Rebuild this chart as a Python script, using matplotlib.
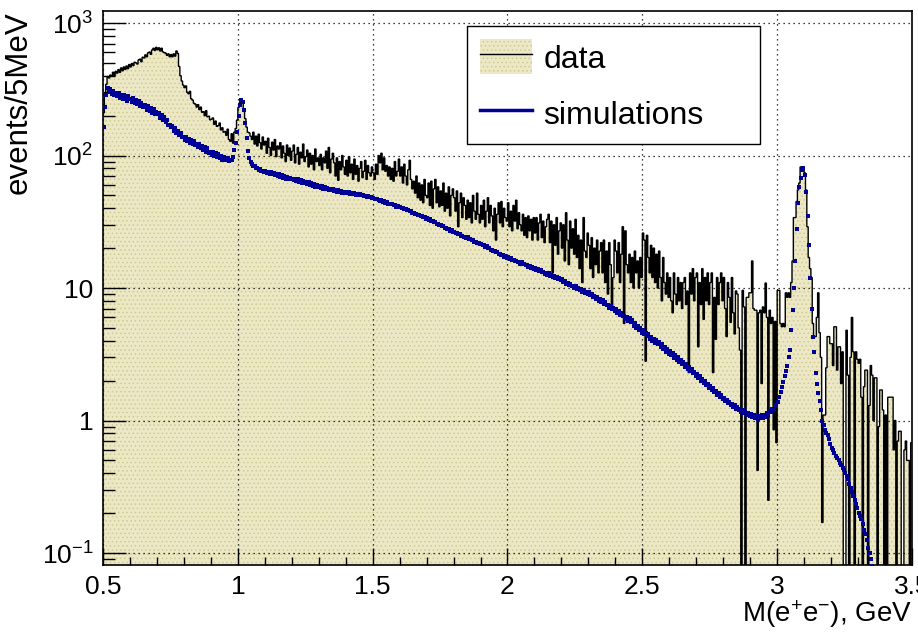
import numpy as np
import matplotlib
matplotlib.use('Agg')
import matplotlib.pyplot as plt
from matplotlib.patches import Patch
from matplotlib.lines import Line2D
from matplotlib.ticker import FixedLocator, FixedFormatter, LogLocator, MultipleLocator, NullFormatter, FuncFormatter

plt.rcParams['font.family'] = ['Liberation Sans', 'DejaVu Sans']
plt.rcParams['mathtext.fontset'] = 'custom'
plt.rcParams['mathtext.rm'] = 'Liberation Sans'
plt.rcParams['mathtext.it'] = 'Liberation Sans:italic'
plt.rcParams['mathtext.bf'] = 'Liberation Sans:bold'
plt.rcParams['hatch.linewidth'] = 0.6

# ---------------- data ----------------
x_lo, x_hi, bin_w = 0.5, 3.5, 0.005

data_counts = [
    210, 295, 345, 395, 385, 405, 400, 425, 398, 432,
    418, 445, 424, 458, 436, 466, 446, 474, 452, 486,
    466, 495, 478, 506, 500, 490, 526, 534, 510, 552,
    545, 575, 556, 596, 604, 580, 626, 645, 620, 655,
    628, 650, 615, 645, 605, 598, 592, 570, 585, 556,
    578, 556, 585, 562, 615, 590, 470, 400, 365, 340,
    325, 335, 300, 292, 305, 268, 262, 248, 244, 232,
    242, 222, 232, 212, 214, 200, 218, 196, 198, 186,
    188, 192, 172, 182, 166, 168, 176, 156, 162, 150,
    152, 142, 158, 132, 128, 146, 124, 150, 160, 185,
    230, 250, 262, 250, 220, 190, 164, 150, 148, 140,
    132, 150, 122, 140, 118, 145, 125, 112, 138, 120,
    128, 104, 135, 115, 100, 126, 110, 132, 98, 118,
    112, 125, 96, 118, 104, 90, 120, 100, 114, 92,
    108, 120, 88, 102, 115, 86, 106, 96, 122, 90,
    98, 110, 82, 104, 86, 100, 78, 112, 90, 96,
    84, 102, 78, 96, 88, 108, 80, 115, 74, 94,
    104, 88, 70, 96, 65, 90, 78, 100, 82, 72,
    92, 70, 98, 74, 86, 66, 94, 72, 84, 64,
    80, 90, 68, 76, 92, 66, 84, 74, 70, 82,
    74, 66, 86, 72, 100, 88, 104, 78, 96, 76,
    84, 70, 82, 66, 80, 64, 90, 70, 76, 94,
    70, 82, 62, 86, 70, 60, 78, 92, 66, 56,
    64, 52, 70, 48, 62, 46, 60, 44, 66, 50,
    48, 62, 42, 64, 40, 56, 66, 44, 58, 41,
    54, 42, 62, 38, 52, 40, 58, 35, 50, 56,
    48, 38, 54, 29, 44, 52, 34, 48, 42, 33,
    46, 34, 44, 31, 50, 38, 33, 52, 36, 31,
    42, 33, 46, 29, 38, 48, 31, 42, 35, 27,
    40, 23, 36, 44, 31, 45, 29, 40, 34, 32,
    44, 29, 38, 27, 42, 32, 46, 28, 37, 30,
    27, 36, 25, 34, 24, 35, 27, 33, 23, 34,
    26, 34, 23, 31, 36, 24, 32, 22, 29, 33,
    36, 22, 32, 13, 30, 21, 34, 18, 27, 31,
    20, 30, 16, 37, 23, 15, 32, 20, 28, 18,
    33, 17, 25, 14, 23, 11, 34, 19, 17, 26,
    21, 14, 24, 12, 20, 15, 23, 13, 19, 22,
    13, 23, 11, 19, 9, 22, 15, 7, 12, 23,
    19, 13, 22, 11, 18, 29, 5.4, 27, 15, 13,
    18, 11, 17, 10, 19, 13, 16, 10, 17, 12,
    26, 23, 2.8, 25, 17, 13, 21, 12, 20, 11,
    18, 10, 19, 12, 8, 17, 11, 9, 13, 8.5,
    12, 8, 6.5, 13, 9, 7.5, 12, 8, 11, 7,
    11, 12, 7.5, 9.5, 2.3, 13, 9, 14, 8, 12,
    13, 3.6, 11, 7.5, 14, 5.8, 12, 8, 13, 7.5,
    11, 13, 2.3, 8.5, 4.1, 12, 7.5, 11, 13, 8,
    12, 7, 4.3, 11, 8.5, 5.5, 12, 6.5, 4.5, 9.5,
    9, 5, 3.4, 0, 9.6, 7.2, 0, 8.5, 8.5, 9.2,
    9.2, 16, 7, 6.8, 6.8, 0.42, 6.5, 6.8, 1.9, 7.2,
    6.5, 10.9, 6, 0.25, 6.8, 5.4, 6, 0.85, 5.6, 0.68,
    9.6, 9.6, 5.4, 5.1, 5.4, 5.1, 9.2, 8.5, 9.2, 8.5,
    11, 16, 34, 34, 45, 55, 62, 82, 82, 80,
    74, 55, 29, 17, 14, 12, 5.4, 4.3, 4.3, 6,
    9.2, 4.6, 3.0, 0.17, 1.1, 1.1, 2.5, 4.3, 4.3, 3.8,
    3.8, 2.6, 5.1, 5.1, 2.4, 3.6, 3.6, 1.9, 3.3, 0,
    0, 4.8, 2.2, 0, 3.0, 6.0, 3.3, 0, 3.3, 2.9,
    2.7, 2.9, 1.5, 0, 1.8, 2.4, 2.4, 0, 1.3, 2.6,
    2.2, 1.0, 2.1, 2.1, 0, 0.9, 1.7, 1.7, 1.2, 0,
    1.1, 0, 1.5, 1.5, 1.5, 1.5, 0.6, 1.0, 0, 0.7,
    0.83, 0.83, 0, 0, 0.6, 0.7, 0.5, 0.5, 0, 0.68,
]

nan = float('nan')
sim_counts = [
    165, 232, 285, 322, 300, 318, 292, 305, 288, 296,
    280, 296, 270, 288, 266, 284, 278, 258, 281, 265,
    268, 255, 272, 248, 262, 243, 257, 238, 250, 233,
    235, 242, 222, 236, 217, 230, 211, 224, 206, 214,
    204, 210, 192, 202, 185, 194, 178, 186, 170, 170,
    164, 168, 153, 160, 148, 154, 142, 148, 138, 139,
    132, 139, 128, 134, 125, 131, 122, 128, 119, 122,
    116, 122, 113, 118, 110, 116, 107, 113, 104, 107,
    101, 107, 99, 104, 97, 102, 95, 100, 93, 98,
    94, 92, 95, 91, 93, 92, 97, 110, 125, 150,
    200, 240, 262, 255, 220, 175, 135, 108, 95, 90,
    86, 84, 83, 80, 81, 78, 79, 76, 77, 75,
    77, 74, 75, 73, 75, 72, 74, 71, 73, 70,
    72, 69, 71, 68, 70, 67, 69, 66, 68, 66,
    67, 65, 67, 64, 66, 63, 65, 62, 64, 62,
    63, 61, 63, 60, 62, 59, 61, 58, 60, 58,
    59, 57, 59, 56, 58, 55.5, 57, 55, 56, 54.5,
    55.5, 54, 55, 53.5, 54.5, 53, 54, 52.5, 53.5, 52.5,
    53.5, 52, 53, 51.5, 52.5, 51, 52, 50.5, 51.5, 50.5,
    51, 50, 50.4, 49.6, 49.8, 49, 49.2, 48.3, 48.8, 47.8,
    48, 47.2, 47.2, 46.6, 46.5, 45.7, 45.8, 44.8, 45, 44,
    44.2, 43.4, 43.4, 42.9, 42.8, 42, 42.2, 41.2, 41.6, 40.8,
    41, 40.3, 40.2, 39.5, 39.6, 38.7, 38.8, 38, 37.8, 37.1,
    37.1, 36.4, 36.4, 35.7, 35.6, 34.8, 34.9, 34.1, 34.1, 33.4,
    33.5, 32.8, 32.9, 32.1, 32.1, 31.3, 31.4, 30.6, 30.6, 30.0,
    30.1, 29.3, 29.4, 28.6, 28.6, 27.9, 28.0, 27.1, 27.2, 26.5,
    26.6, 26.0, 26.1, 25.4, 25.4, 24.9, 24.9, 24.3, 24.4, 23.8,
    24.1, 23.4, 23.5, 22.9, 23.0, 22.4, 22.4, 21.9, 21.9, 21.4,
    21.6, 21.0, 21.1, 20.5, 20.6, 20.0, 20.0, 19.5, 19.5, 19.0,
    19.1, 18.6, 18.6, 18.1, 18.2, 17.6, 17.7, 17.2, 17.3, 16.8,
    17.1, 16.6, 16.8, 16.2, 16.4, 15.9, 16.0, 15.6, 15.7, 15.3,
    15.6, 15.1, 15.3, 14.8, 15.0, 14.5, 14.7, 14.2, 14.3, 13.9,
    14.1, 13.7, 13.8, 13.4, 13.6, 13.1, 13.3, 12.8, 13.0, 12.6,
    12.9, 12.4, 12.6, 12.2, 12.3, 11.9, 12.1, 11.6, 11.8, 11.4,
    11.6, 11.1, 11.3, 10.8, 11.0, 10.6, 10.7, 10.3, 10.4, 10.0,
    10.3, 9.8, 10.0, 9.6, 9.8, 9.4, 9.6, 9.2, 9.4, 9.0,
    9.3, 8.8, 9.0, 8.5, 8.7, 8.3, 8.5, 8.0, 8.2, 7.8,
    8.1, 7.6, 7.8, 7.4, 7.5, 7.1, 7.3, 6.9, 7.1, 6.7,
    7.0, 6.5, 6.7, 6.3, 6.5, 6.1, 6.2, 5.8, 6.0, 5.6,
    5.9, 5.5, 5.7, 5.2, 5.4, 5.0, 5.2, 4.8, 5.0, 4.6,
    4.8, 4.5, 4.6, 4.35, 4.5, 4.15, 4.3, 4.0, 4.15, 3.85,
    4.05, 3.75, 3.9, 3.6, 3.75, 3.45, 3.6, 3.3, 3.45, 3.2,
    3.35, 3.1, 3.25, 2.95, 3.1, 2.85, 3.0, 2.75, 2.85, 2.65,
    2.75, 2.55, 2.65, 2.45, 2.55, 2.35, 2.45, 2.27, 2.33, 2.17,
    2.25, 2.1, 2.15, 2.0, 2.07, 1.93, 1.98, 1.85, 1.9, 1.77,
    1.83, 1.71, 1.76, 1.64, 1.68, 1.57, 1.61, 1.51, 1.55, 1.45,
    1.48, 1.4, 1.44, 1.35, 1.39, 1.31, 1.34, 1.27, 1.3, 1.23,
    1.27, 1.2, 1.23, 1.16, 1.2, 1.13, 1.16, 1.1, 1.14, 1.08,
    1.12, 1.06, 1.1, 1.04, 1.09, 1.03, 1.09, 1.04, 1.1, 1.05,
    1.1, 1.07, 1.13, 1.1, 1.17, 1.15, 1.23, 1.22, 1.31, 1.3,
    1.38, 1.5, 1.65, 1.8, 1.95, 2.15, 2.35, 2.6, 3.0, 3.4,
    4.8, 6.8, 10, 16, 28, 44, 58, 68, 78, 80,
    71, 53, 35, 21, 12, 7, 4.3, 3.3, 2.3, 1.9,
    1.6, 1.4, 1.2, 1.0, 0.92, 0.85, 0.8, 0.78, 0.72, 0.66,
    0.62, 0.6, 0.57, 0.54, 0.52, 0.5, 0.48, 0.46, 0.44, 0.42,
    0.4, 0.38, 0.36, 0.33, 0.31, 0.29, 0.27, 0.25, 0.235, 0.22,
    0.2, 0.19, 0.18, 0.165, 0.15, 0.14, 0.125, 0.11, 0.1, 0.09,
    0.08, nan, nan, nan, nan, nan, nan, nan, nan, nan,
    nan, nan, nan, nan, nan, nan, nan, nan, nan, nan,
    nan, nan, nan, nan, nan, nan, nan, nan, nan, nan,
]

x_tick_values = [0.5, 1.0, 1.5, 2.0, 2.5, 3.0, 3.5]
y_tick_values = [0.1, 1, 10, 100, 1000]
y_tick_labels = ['$10^{-1}$', '1', '10', '$10^{2}$', '$10^{3}$']
series_names = ['data', 'simulations']
x_title = 'M(e$^{+}$e$^{-}$), GeV'
y_title = 'events/5MeV'

# ---------------- style ----------------
beige = '#ece8c6'
hatch_col = '#d0ca92'
sim_col = '#000099'
W, H = 918, 637

data = np.array(data_counts, dtype=float)
sim = np.array(sim_counts, dtype=float)
edges = x_lo + bin_w * np.arange(len(data) + 1)
centers = 0.5 * (edges[:-1] + edges[1:])

fig = plt.figure(figsize=(W / 100, H / 100), dpi=100)
ax = fig.add_axes([103 / W, (H - 565) / H, (912 - 103) / W, (565 - 11) / H])

ymin, ymax = 0.0812, 1232
floor = 1e-4
dplot = np.where(data > 0, data, floor)

ax.stairs(dplot, edges, baseline=floor, fill=True, facecolor=beige,
          edgecolor=hatch_col, linewidth=0, hatch='....', zorder=1)
ax.stairs(dplot, edges, baseline=None, color='black', linewidth=1.0, zorder=2)
ax.plot(centers, sim, linestyle='none', marker='s', markersize=3.2,
        color=sim_col, markeredgewidth=0, zorder=3)

ax.set_yscale('log')
ax.set_xlim(x_lo, x_hi)
ax.set_ylim(ymin, ymax)

ax.xaxis.set_major_locator(FixedLocator(x_tick_values))
ax.xaxis.set_major_formatter(FuncFormatter(lambda v, p: f'{v:g}'))
ax.xaxis.set_minor_locator(MultipleLocator(0.1))
ax.yaxis.set_major_locator(FixedLocator(y_tick_values))
ax.yaxis.set_major_formatter(FixedFormatter(y_tick_labels))
ax.yaxis.set_minor_locator(LogLocator(base=10, subs=np.arange(2, 10)))
ax.yaxis.set_minor_formatter(NullFormatter())

ax.tick_params(axis='both', which='both', direction='in', top=False, right=False,
               width=1.0, labelsize=19)
ax.tick_params(axis='y', which='major', length=16.5, pad=7)
ax.tick_params(axis='y', which='minor', length=8.5)
ax.tick_params(axis='x', which='major', length=12, pad=7)
ax.tick_params(axis='x', which='minor', length=6)

for s in ax.spines.values():
    s.set_linewidth(1.2)

ax.set_axisbelow(False)
ax.grid(True, which='major', color='black', linestyle=(0, (1, 3)), linewidth=0.9)

ax.set_xlabel(x_title, fontsize=20, loc='right')
ax.xaxis.set_label_coords(1.0, -0.06)
ax.set_ylabel(y_title, fontsize=22.5, loc='top')
ax.yaxis.set_label_coords(-0.086, 1.0)

h_data = (Patch(facecolor=beige, edgecolor=hatch_col, hatch='....', linewidth=0),
          Line2D([], [], color='black', linewidth=1.0))
h_sim = Line2D([], [], color=sim_col, linewidth=2.5)
leg = ax.legend([h_data, h_sim], series_names, loc='upper left',
                bbox_to_anchor=(467 / W, (H - 143) / H, (760 - 467) / W, (143 - 26) / H),
                bbox_transform=fig.transFigure, mode='expand', borderaxespad=0,
                fontsize=23, handlelength=1.63, handleheight=1.31, handletextpad=0.34,
                labelspacing=0.66, borderpad=0.42, fancybox=False, framealpha=1,
                edgecolor='black')
leg.get_frame().set_linewidth(1.0)
leg.set_zorder(5)

fig.savefig('out.png', dpi=100)
